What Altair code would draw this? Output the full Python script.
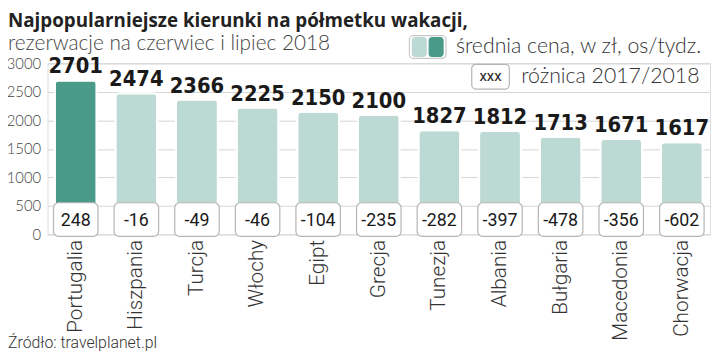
import altair as alt
import pandas as pd

countries = ["Portugalia", "Hiszpania", "Turcja", "Włochy", "Egipt", "Grecja",
             "Tunezja", "Albania", "Bułgaria", "Macedonia", "Chorwacja"]
prices = [2701, 2474, 2366, 2225, 2150, 2100, 1827, 1812, 1713, 1671, 1617]
diffs = [248, -16, -49, -46, -104, -235, -282, -397, -478, -356, -602]
highlight = ["Portugalia"]
y_ticks = [0, 500, 1000, 1500, 2000, 2500, 3000]

df = pd.DataFrame({"kraj": countries, "cena": prices, "roznica": diffs})
df["hl"] = df["kraj"].isin(highlight)
df["roznica_txt"] = df["roznica"].astype(str)

W, H = 670, 173
DARK = "#4a9a8a"
LIGHT = "#bcdad3"
COND = "'DejaVu Sans Condensed', 'DejaVu Sans', sans-serif"

x = alt.X("kraj:N", sort=countries, title=None,
          scale=alt.Scale(paddingInner=0.31, paddingOuter=0.12),
          axis=alt.Axis(labelAngle=-90, labelAlign="right", labelBaseline="middle",
                        labelPadding=5, ticks=False, domain=False,
                        labelFont="Roboto", labelFontWeight=300, labelFontSize=21,
                        labelColor="#333333"))
y = alt.Y("cena:Q", title=None,
          scale=alt.Scale(domain=[0, 3000], nice=False),
          axis=alt.Axis(values=y_ticks, format="d",
                        labelOverlap=False, labelBound=False,
                        ticks=False, domain=False, labelPadding=7,
                        labelFont="Lato", labelFontWeight=300, labelFontSize=15,
                        labelColor="#444444", gridColor="#d6d6d6", gridWidth=1))

base = alt.Chart(df)

bars = base.mark_bar(cornerRadius=4, stroke="#ffffff", strokeWidth=2).encode(
    x=x, y=y,
    color=alt.condition("datum.hl", alt.value(DARK), alt.value(LIGHT)),
)

vals = base.mark_text(baseline="bottom", dy=-2, font=COND,
                      fontWeight="bold", fontSize=22, color="#1a1a1a").encode(
    x=x, y=y, text="cena:Q")

boxes = base.mark_bar(size=45, cornerRadius=5, fill="#ffffff", stroke="#b5b5b5",
                      strokeWidth=1.2).encode(
    x=x, y=alt.value(141), y2=alt.value(175))

difftxt = base.mark_text(baseline="middle", font="Roboto", fontSize=18,
                         color="#1a1a1a").encode(
    x=x, y=alt.value(159), text="roznica_txt:N")

one = alt.Data(values=[{}])

def txt(t, xv, yv, size, weight="normal", color="#222222", font="Roboto", align="left"):
    return alt.Chart(one).mark_text(text=t, align=align, baseline="alphabetic",
                                    font=font, fontSize=size, fontWeight=weight,
                                    color=color).encode(x=alt.value(xv), y=alt.value(yv))

def box(x1, x2, y1, y2, fill, stroke, r=3):
    return alt.Chart(one).mark_rect(fill=fill, stroke=stroke, strokeWidth=1.2,
                                    cornerRadius=r).encode(
        x=alt.value(x1), x2=alt.value(x2), y=alt.value(y1), y2=alt.value(y2))

title = txt("Najpopularniejsze kierunki na półmetku wakacji,", -40, -37, 19, "bold",
            "#222222", "Open Sans")
subtitle = txt("rezerwacje na czerwiec i lipiec 2018", -40, -13, 21, 300, "#444444", "Lato")
leg_frame = box(366, 403, -28, -5, "#ffffff", "#c8c8c8", 4)
leg_l = box(369, 383, -26, -7, LIGHT, LIGHT, 3)
leg_d = box(386, 400, -26, -7, DARK, DARK, 3)
leg_t1 = txt("średnia cena, w zł, os/tydz.", 413, -10, 21.5, 300, "#333333", "Lato")
leg_box = box(429, 467, 1, 26, "#ffffff", "#b5b5b5", 4)
leg_xxx = alt.Chart(one).mark_text(text="xxx", align="center", baseline="middle",
                                   font="Roboto", fontSize=15, color="#222222").encode(
    x=alt.value(448), y=alt.value(13))
leg_t2 = txt("różnica 2017/2018", 479, 20, 21.5, 300, "#333333", "Lato")
source = txt("Źródło: travelplanet.pl", -40, 288, 16, 300, "#333333", "Roboto")

chart = alt.layer(bars, boxes, difftxt, vals, title, subtitle, leg_frame, leg_l, leg_d,
                  leg_t1, leg_box, leg_xxx, leg_t2, source).properties(
    width=W, height=H, autosize="none",
    padding={"left": 40, "top": 54, "right": 2, "bottom": 121},
).configure_view(fill="#f2f2f2", stroke=None).configure(background="#ffffff")

chart.save("out.html", embed_options={"renderer": "svg", "actions": False})
